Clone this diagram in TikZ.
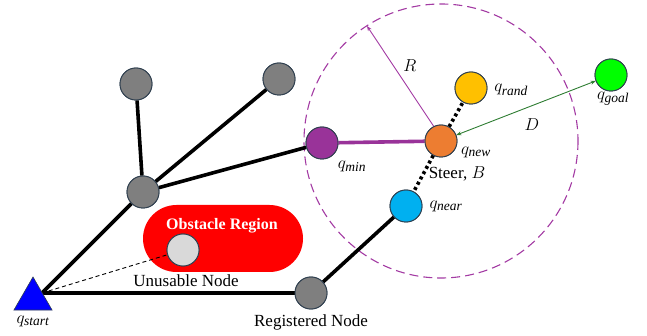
\documentclass[tikz,border=0pt]{standalone}
\usepackage{fontspec}
\setmainfont{Liberation Serif}
\usetikzlibrary{shapes.geometric,arrows.meta}
\definecolor{treegray}{HTML}{7F7F7F}
\definecolor{rimcol}{HTML}{2F3F4F}
\definecolor{minpurple}{HTML}{993399}
\definecolor{ringpurple}{HTML}{A33BA3}
\definecolor{neworange}{HTML}{ED7D31}
\definecolor{randyellow}{HTML}{FFC000}
\definecolor{nearblue}{HTML}{00B0F0}
\definecolor{goalgreen}{HTML}{00FF00}
\definecolor{distgreen}{HTML}{2E7D32}
\definecolor{deadgray}{HTML}{D9D9D9}
% q with an italic subscript
\newcommand\qsub[1]{$q_{\mbox{\fontsize{13.5}{15}\selectfont\itshape #1}}$}
\tikzset{
  vtx/.style={circle, draw=rimcol, line width=0.9pt, minimum size=32pt, inner sep=0pt},
  edge/.style={line width=3.6pt, black},
  steerline/.style={line width=3.6pt, black, dash pattern=on 3pt off 3pt},
  lbl/.style={font=\fontsize{17}{19}\selectfont, inner sep=0pt},
  txt/.style={font=\fontsize{17}{19}\selectfont, inner sep=0pt},
}
\begin{document}
\begin{tikzpicture}[x=1pt, y=-1pt]
\useasboundingbox (0,0) rectangle (647,336);

% search radius around the new node
\draw[ringpurple, line width=1.1pt, dash pattern=on 9pt off 5pt] (441,141) circle (137);

% obstacle
\node[fill=red, rounded corners=33.5pt, minimum width=160pt, minimum height=67pt, inner sep=0pt] (obst) at (223,238.5) {};
\node[text=white, font=\fontsize{16}{18}\selectfont\bfseries, inner sep=0pt] (obsttxt) at (222,226) {Obstacle Region};

% vertices
\coordinate (root) at (42,293);
\node[vtx, fill=treegray] (hub) at (143,192) {};
\node[vtx, fill=treegray] (tl) at (136,84) {};
\node[vtx, fill=treegray] (tr) at (279,79) {};
\node[vtx, fill=minpurple] (qmin) at (322,143) {};
\node[vtx, fill=deadgray] (dead) at (183,250) {};
\node[vtx, fill=treegray] (reg) at (311,293) {};
\node[vtx, fill=nearblue] (qnear) at (406,206) {};
\node[vtx, fill=neworange] (qnew) at (441,141) {};
\node[vtx, fill=randyellow] (qrand) at (471,88) {};
\node[vtx, fill=goalgreen] (qgoal) at (611,75) {};
\coordinate (rtip) at (367,26);

% tree edges
\draw[edge] (root) -- (hub);
\draw[edge] (hub) -- (tl);
\draw[edge] (hub) -- (tr);
\draw[edge] (hub) -- (qmin);
\draw[edge] (root) -- (reg);
\draw[edge] (reg) -- (qnear);
\draw[black, line width=0.9pt, dash pattern=on 4pt off 3pt] (root) -- (dead);
\draw[minpurple, line width=3.6pt] (qmin) -- (qnew);
\draw[steerline] (qnew) -- (qrand);
\draw[steerline] (qnew) -- (qnear);

% radius and goal distance
\draw[ringpurple, line width=0.9pt, -{Stealth[length=5pt,width=4pt]}] (qnew.north west) ++(5,-2) -- (rtip);
\draw[distgreen, line width=0.9pt, {Stealth[length=5pt,width=4pt]}-{Stealth[length=5pt,width=4pt]}] (qnew) -- (qgoal);

% start marker
\node[regular polygon, regular polygon sides=3, fill=blue, draw=rimcol, line width=0.6pt, minimum size=44pt, inner sep=0pt] (qstart) at (33,299) {};

% vertices again, on top of the edges
\foreach \n/\c in {hub/treegray, tl/treegray, tr/treegray, qmin/minpurple, dead/deadgray, reg/treegray, qnear/nearblue, qnew/neworange, qrand/randyellow, qgoal/goalgreen}
  \fill[\c, draw=rimcol, line width=0.9pt] (\n) circle (16);

% labels
\node[lbl] (lstart) at (33,321) {\qsub{start}};
\node[lbl] (lmin) at (352,166) {\qsub{min}};
\node[lbl] (lnew) at (476,152) {\qsub{new}};
\node[lbl] (lrand) at (511,90) {\qsub{rand}};
\node[lbl] (lgoal) at (613,99) {\qsub{goal}};
\node[lbl] (lnear) at (446,206) {\qsub{near}};
\node[txt] (lsteer) at (457,174) {Steer, $B$};
\node[lbl] (lR) at (410,66) {$R$};
\node[lbl] (lD) at (532,125) {$D$};
\node[txt] (ldead) at (186,281) {Unusable Node};
\node[txt] (lreg) at (311,322) {Registered Node};
\end{tikzpicture}
\end{document}
